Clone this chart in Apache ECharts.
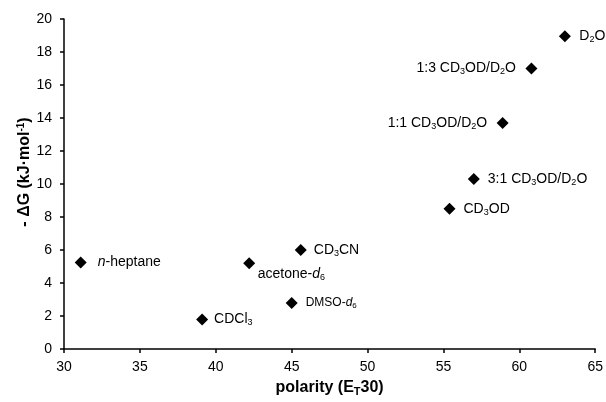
<!DOCTYPE html>
<html>
<head>
<meta charset="utf-8">
<script src="https://cdn.jsdelivr.net/npm/echarts@6/dist/echarts.min.js"></script>
<style>
html,body{margin:0;padding:0;background:#fff;}
#chart{width:606px;height:402px;}
</style>
</head>
<body>
<div id="chart"></div>
<script>
// Data
var solvents = ['n-heptane', 'CDCl3', 'acetone-d6', 'DMSO-d6', 'CD3CN', 'CD3OD', '3:1 CD3OD/D2O', '1:1 CD3OD/D2O', '1:3 CD3OD/D2O', 'D2O'];
var labelTexts = ['{i|n}-heptane', 'CDCl{s|3}', 'acetone-{i|d}{s|6}', 'DMSO-{is|d}{ss|6}', 'CD{s|3}CN', 'CD{s|3}OD',
  '3:1 CD{s|3}OD/D{s|2}O', '1:1 CD{s|3}OD/D{s|2}O', '1:3 CD{s|3}OD/D{s|2}O', 'D{s|2}O'];
var polarity = [31.1, 39.1, 42.2, 45.0, 45.6, 55.4, 57.0, 58.9, 60.8, 63.0];
var deltaG = [5.25, 1.8, 5.2, 2.8, 6.0, 8.5, 10.3, 13.7, 17.0, 18.95];
var xTicks = [30, 35, 40, 45, 50, 55, 60, 65];
var yTicks = [0, 2, 4, 6, 8, 10, 12, 14, 16, 18, 20];

var FONT = "'Liberation Sans', Arial, sans-serif";

// label placement (styling, not data)
var placement = {
  0: {position: 'right', offset: [3, 0]},
  1: {position: 'right', offset: [-2, 0]},
  2: {position: 'right', offset: [-5.5, 11]},
  3: {position: 'right', offset: [0, 0], fontSize: 12},
  4: {position: 'right', offset: [-1, 0]},
  5: {position: 'right', offset: [0, 0]},
  6: {position: 'right', offset: [0, 0]},
  7: {position: 'left', offset: [-1.5, 0]},
  8: {position: 'left', offset: [-1.5, 0]},
  9: {position: 'right', offset: [0.5, 0]}
};

var rich = {
  i: {fontStyle: 'italic', fontSize: 14, fontFamily: FONT, color: '#000', lineHeight: 16},
  is: {fontStyle: 'italic', fontSize: 12, fontFamily: FONT, color: '#000', lineHeight: 14},
  s: {fontSize: 9, fontFamily: FONT, color: '#000', verticalAlign: 'bottom', lineHeight: 9},
  ss: {fontSize: 8, fontFamily: FONT, color: '#000', verticalAlign: 'bottom', lineHeight: 8}
};

var points = polarity.map(function (x, k) {
  var p = placement[k];
  return {
    name: solvents[k],
    value: [x, deltaG[k]],
    label: {
      show: true,
      formatter: labelTexts[k],
      position: p.position,
      offset: p.offset,
      distance: 8,
      fontSize: p.fontSize || 14,
      lineHeight: p.fontSize ? 14 : 16,
      fontFamily: FONT,
      color: '#000',
      rich: rich
    }
  };
});

var chart = echarts.init(document.getElementById('chart'), null, {renderer: 'canvas'});
chart.setOption({
  animation: false,
  backgroundColor: '#fff',
  grid: {left: 64, right: 9, top: 19, bottom: 50},
  xAxis: {
    type: 'value',
    min: xTicks[0], max: xTicks[xTicks.length - 1], interval: 5,
    axisLine: {lineStyle: {color: '#000', width: 1.5}},
    axisTick: {show: true, inside: false, length: 4, lineStyle: {color: '#000', width: 1.5}},
    splitLine: {show: false},
    axisLabel: {color: '#000', fontSize: 14, fontFamily: FONT, margin: 11},
    name: 'polarity (E{sub|T}30)',
    nameLocation: 'middle',
    nameGap: 27,
    nameTextStyle: {
      fontSize: 16, fontWeight: 'bold', fontFamily: FONT, color: '#000', lineHeight: 18,
      rich: {sub: {fontSize: 11, fontWeight: 'bold', fontFamily: FONT, color: '#000', verticalAlign: 'bottom', lineHeight: 11}}
    }
  },
  yAxis: {
    type: 'value',
    min: yTicks[0], max: yTicks[yTicks.length - 1], interval: 2,
    axisLine: {show: true, lineStyle: {color: '#000', width: 1.5}},
    axisTick: {show: true, inside: false, length: 4, lineStyle: {color: '#000', width: 1.5}},
    splitLine: {show: false},
    axisLabel: {color: '#000', fontSize: 14, fontFamily: FONT, margin: 12}
  },
  graphic: [{
    type: 'text',
    x: 25, y: 172,
    rotation: Math.PI / 2,
    style: {
      text: '- \u0394G (kJ\u00b7mol{sup|-1})',
      fontSize: 16, fontWeight: 'bold', fontFamily: FONT, fill: '#000',
      align: 'center', verticalAlign: 'middle', lineHeight: 18,
      rich: {sup: {fontSize: 10, fontWeight: 'bold', fontFamily: FONT, fill: '#000', verticalAlign: 'top', lineHeight: 10}}
    }
  }],
  series: [{
    type: 'scatter',
    symbol: 'diamond',
    symbolSize: 12,
    clip: false,
    itemStyle: {color: '#000', opacity: 1},
    emphasis: {disabled: true},
    data: points
  }]
});
</script>
</body>
</html>
